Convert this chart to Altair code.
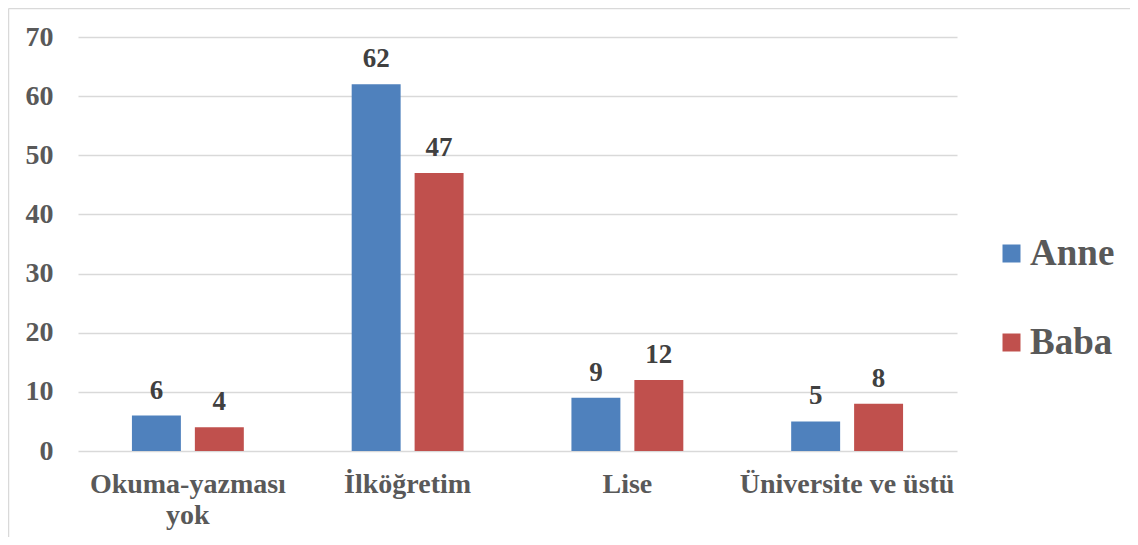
import altair as alt
import pandas as pd

categories = ["Okuma-yazması yok", "İlköğretim", "Lise", "Üniversite ve üstü"]
series = ["Anne", "Baba"]
anne = [6, 62, 9, 5]
baba = [4, 47, 12, 8]
colors = ["#4F81BD", "#C0504D"]

rows = []
for c, a, b in zip(categories, anne, baba):
    rows.append({"Kategori": c, "Grup": "Anne", "Deger": a})
    rows.append({"Kategori": c, "Grup": "Baba", "Deger": b})
df = pd.DataFrame(rows)

FONT = "Liberation Serif"

x_enc = alt.X(
    "Kategori:N",
    sort=categories,
    scale=alt.Scale(paddingInner=0, paddingOuter=0),
    axis=alt.Axis(
        title=None,
        labelAngle=0,
        labelFont=FONT,
        labelFontSize=28,
        labelFontWeight="bold",
        labelColor="#595959",
        labelPadding=19,
        labelLineHeight=31,
        labelLimit=400,
        domain=False,
        ticks=False,
        grid=False,
        labelExpr="datum.value == 'Okuma-yazması yok' ? ['Okuma-yazması', 'yok'] : datum.value",
    ),
)
xoff = alt.XOffset(
    "Grup:N",
    sort=series,
    scale=alt.Scale(paddingInner=0.222, paddingOuter=0.857),
)
y_enc = alt.Y(
    "Deger:Q",
    scale=alt.Scale(domain=[0, 70]),
    axis=alt.Axis(
        title=None,
        values=[0, 10, 20, 30, 40, 50, 60, 70],
        labelFont=FONT,
        labelFontSize=28,
        labelFontWeight="bold",
        labelColor="#595959",
        labelPadding=25,
        domain=False,
        ticks=False,
        gridColor="#D9D9D9",
        gridWidth=1.3,
    ),
)

bars = alt.Chart(df).mark_bar().encode(
    x=x_enc,
    xOffset=xoff,
    y=y_enc,
    color=alt.Color(
        "Grup:N",
        sort=series,
        scale=alt.Scale(domain=series, range=colors),
        legend=alt.Legend(
            title=None,
            orient="none",
            legendX=915,
            legendY=198,
            symbolType="square",
            symbolSize=324,
            symbolStrokeWidth=0,
            labelFont=FONT,
            labelFontSize=37,
            labelFontWeight="bold",
            labelColor="#595959",
            labelOffset=0,
            rowPadding=51,
            padding=0,
            labelLimit=300,
        ),
    ),
)

labels = alt.Chart(df).mark_text(
    font=FONT,
    fontSize=27,
    fontWeight="bold",
    color="#404040",
    baseline="alphabetic",
    dy=-17,
).encode(
    x=alt.X("Kategori:N", sort=categories),
    xOffset=alt.XOffset("Grup:N", sort=series),
    y=alt.Y("Deger:Q"),
    text="Deger:Q",
)

frame = alt.Chart(alt.Data(values=[{}]))
left_border = frame.mark_rule(color="#D9D9D9", strokeWidth=1.5).encode(
    x=alt.value(-69.5), y=alt.value(-28.5), y2=alt.value(700)
)
top_border = frame.mark_rule(color="#D9D9D9", strokeWidth=1.5).encode(
    x=alt.value(-69.5), x2=alt.value(1300), y=alt.value(-28.5)
)

chart = (
    alt.layer(bars, labels, left_border, top_border)
    .properties(
        width=879,
        height=414,
        autosize=alt.AutoSizeParams(type="none"),
        padding={"left": 70, "top": 29, "right": 173, "bottom": 86},
    )
    .configure(background="white")
    .configure_view(strokeWidth=0)
)

chart.save("out.html", embed_options={"renderer": "svg", "actions": False})
